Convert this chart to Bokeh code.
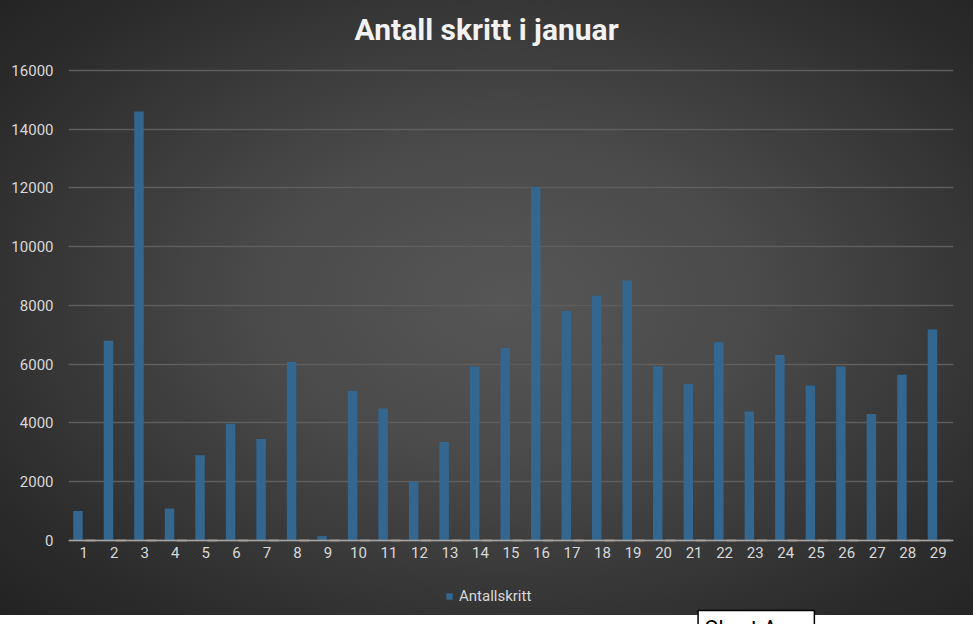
from bokeh.plotting import figure
from bokeh.models import (ColumnDataSource, Range1d, FixedTicker, Legend, LegendItem,
                          Label, BasicTickFormatter)
from bokeh.transform import dodge
from bokeh.embed import file_html
from bokeh.resources import INLINE

# ---- data ----
days = list(range(1, 30))
steps = [1000, 6800, 14600, 1090, 2900, 3970, 3455, 6080, 150, 5090,
         4490, 2010, 3350, 5920, 6555, 12030, 7815, 8335, 8850, 5920,
         5330, 6745, 4395, 6315, 5280, 5920, 4305, 5645, 7180]
series2 = [0, 0, 0, 0, 0, 0, 0, 0, 0, 0, 0, 0, 0, 0, 0, 0, 0, 0, 0, 0,
           0, 0, 0, 0, 0, 0, 0, 0, 0]
y_ticks = [0, 2000, 4000, 6000, 8000, 10000, 12000, 14000, 16000]
title_text = "Antall skritt i januar"
legend_label = "Antallskritt"

src = ColumnDataSource(dict(day=days, steps=steps, s2=series2))

TXT = "#d9d9d9"

# frame spans the whole height: 16000 sits at ~70px, zero at ~540px
p = figure(width=973, height=624, output_backend="svg", toolbar_location=None,
           x_range=Range1d(0.5, 29.5), y_range=Range1d(-2860, 18383),
           min_border_left=68, min_border_right=20, min_border_top=0,
           min_border_bottom=0)

p.styles = {"background": "linear-gradient(to bottom, rgba(0,0,0,0) 615px, #ffffff 615px), "
                          "radial-gradient(ellipse farthest-corner at 52% 48%, #565656 0%, #4a4a4a 35%, #2c2c2c 80%, #222222 100%)"}
p.background_fill_alpha = 0
p.border_fill_alpha = 0
p.outline_line_color = None

# title (drawn as a label so it can sit exactly where Excel put it)
title = Label(x=14.2, y=17380, text=title_text, text_align="center",
              text_baseline="alphabetic", text_font="Roboto",
              text_font_style="bold", text_font_size="30px", text_color="#f2f2f2")
p.add_layout(title)

bars = p.vbar(x=dodge("day", -0.19, range=p.x_range), top="steps", width=0.31,
              source=src, fill_color="#336790", line_color=None)
p.segment(x0=dodge("day", 0.06, range=p.x_range), x1=dodge("day", 0.38, range=p.x_range),
          y0="s2", y1="s2", source=src, line_color="#e3b79c", line_width=1.5)

# axes
p.xaxis.fixed_location = 0
p.xaxis.ticker = FixedTicker(ticks=days)
p.xaxis.major_tick_line_color = None
p.xaxis.minor_tick_line_color = None
p.xaxis.axis_line_color = "#a6a6a6"
p.xaxis.axis_line_width = 1.5
p.xaxis.major_label_text_color = TXT
p.xaxis.major_label_text_font = "Roboto"
p.xaxis.major_label_text_font_size = "15px"
p.xaxis.major_label_standoff = 1

p.yaxis.ticker = FixedTicker(ticks=y_ticks)
p.yaxis.formatter = BasicTickFormatter(use_scientific=False)
p.yaxis.major_tick_line_color = None
p.yaxis.minor_tick_line_color = None
p.yaxis.axis_line_color = None
p.yaxis.major_label_text_color = TXT
p.yaxis.major_label_text_font = "Roboto"
p.yaxis.major_label_text_font_size = "15px"
p.yaxis.major_label_standoff = 9

p.xgrid.grid_line_color = None
p.ygrid.grid_line_color = "#5e5e5e"
p.ygrid.grid_line_width = 1.5

legend = Legend(items=[LegendItem(label=legend_label, renderers=[bars])],
                orientation="horizontal", location=(377, 19),
                background_fill_alpha=0, border_line_color=None,
                label_text_color=TXT, label_text_font="Roboto",
                label_text_font_size="15px", glyph_width=8, glyph_height=8,
                label_standoff=6, margin=0, padding=2)
p.add_layout(legend)

# Excel tooltip visible in the screenshot
tip = Label(x=21.13, y=-2380, text="Chart Area", text_font="Roboto",
            text_font_size="22px", text_color="black",
            background_fill_color="white", border_line_color="black",
            border_line_width=1.5, text_baseline="top", padding=6)
p.add_layout(tip)

open("out.html", "w").write(file_html(p, INLINE))
